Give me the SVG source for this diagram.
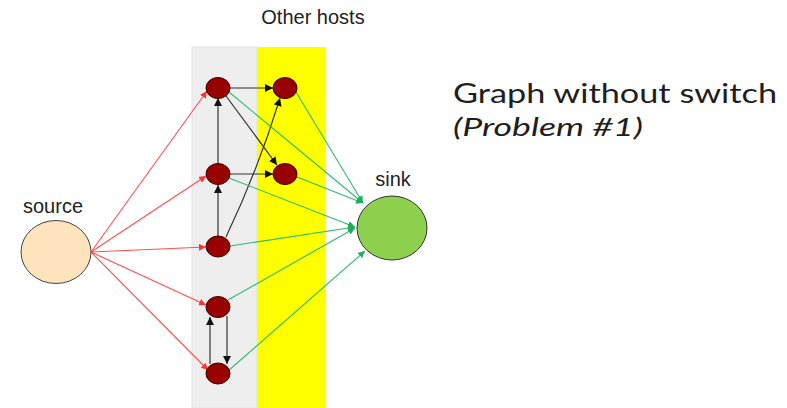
<svg xmlns="http://www.w3.org/2000/svg" width="787" height="408" viewBox="0 0 787 408">
  <defs>
    <style>
      .lbl { font-family: "Liberation Sans", Arial, sans-serif; font-size: 20px; fill: #222; }
      .title { font-family: Lato, "Open Sans", sans-serif; font-size: 26px; fill: #1e1e1e; }
      .host { fill: #990000; stroke: #3a0000; stroke-width: 1; }
      .red { stroke: #ff4d4d; stroke-width: 1.1; fill: none; marker-end: url(#arrRed); }
      .grn { stroke: #2dbb6e; stroke-width: 1.1; fill: none; marker-end: url(#arrGrn); }
      .blk { stroke: #333; stroke-width: 1.2; fill: none; marker-end: url(#arrBlk); }
    </style>
    <marker id="arrRed" viewBox="0 0 10 10" refX="10" refY="5" markerWidth="7" markerHeight="7" markerUnits="userSpaceOnUse" orient="auto">
      <path d="M0,0 L10,5 L0,10 z" fill="#ff3333"/>
    </marker>
    <marker id="arrGrn" viewBox="0 0 10 10" refX="10" refY="5" markerWidth="7" markerHeight="7" markerUnits="userSpaceOnUse" orient="auto">
      <path d="M0,0 L10,5 L0,10 z" fill="#1fae5e"/>
    </marker>
    <marker id="arrBlk" viewBox="0 0 10 10" refX="10" refY="5" markerWidth="8" markerHeight="8" markerUnits="userSpaceOnUse" orient="auto">
      <path d="M0,0 L10,5 L0,10 z" fill="#111"/>
    </marker>
  </defs>

  <rect width="787" height="408" fill="#ffffff"/>

  <!-- host bands -->
  <g id="bands">
    <rect x="192" y="47" width="65" height="361" fill="#eeeeee" stroke="#e4e4e4" stroke-width="1"/>
    <rect x="257" y="47" width="68" height="361" fill="#ffff00"/>
    <line x1="325.5" y1="47" x2="325.5" y2="408" stroke="#dfe3ea" stroke-width="1"/>
  </g>

  <text class="lbl" x="313" y="24" text-anchor="middle">Other hosts</text>

  <!-- connectors -->
  <g id="connectors">
    <!-- source fan-out -->
    <line class="red" x1="91" y1="252" x2="207" y2="91"/>
    <line class="red" x1="91" y1="252" x2="206" y2="176"/>
    <line class="red" x1="91" y1="252" x2="206" y2="247"/>
    <line class="red" x1="91" y1="252" x2="206" y2="305"/>
    <line class="red" x1="91" y1="252" x2="208" y2="370"/>

    <!-- host to host -->
    <line class="blk" x1="230" y1="88" x2="273" y2="88"/>
    <line class="blk" x1="226" y1="96" x2="277" y2="165"/>
    <line class="blk" x1="218" y1="163" x2="218" y2="98"/>
    <line class="blk" x1="230" y1="174" x2="273" y2="174"/>
    <line class="blk" x1="218" y1="236" x2="218" y2="185"/>
    <path class="blk" d="M226,237 Q258,170 280,98"/>
    <line class="blk" x1="210" y1="364" x2="210" y2="317"/>
    <line class="blk" x1="227" y1="316" x2="227" y2="364"/>

    <!-- hosts to sink -->
    <line class="grn" x1="229" y1="92" x2="363" y2="203"/>
    <line class="grn" x1="296" y1="92" x2="363" y2="203"/>
    <line class="grn" x1="297" y1="177" x2="363" y2="203"/>
    <line class="grn" x1="229" y1="178" x2="355" y2="227"/>
    <line class="grn" x1="230" y1="246" x2="355" y2="227"/>
    <line class="grn" x1="228" y1="300" x2="355" y2="228"/>
    <line class="grn" x1="228" y1="371" x2="365" y2="251"/>
  </g>

  <!-- nodes -->
  <g id="source">
    <ellipse cx="56" cy="252" rx="35" ry="31.5" fill="#fde4bd" stroke="#444" stroke-width="1"/>
    <text class="lbl" x="53" y="213" text-anchor="middle">source</text>
  </g>
  <g id="sink">
    <ellipse cx="392" cy="228" rx="35" ry="32" fill="#8ed14f" stroke="#333" stroke-width="1"/>
    <text class="lbl" x="393" y="186" text-anchor="middle">sink</text>
  </g>
  <g id="hostA"><ellipse class="host" cx="218" cy="88" rx="12" ry="10.5"/></g>
  <g id="hostB"><ellipse class="host" cx="285" cy="88" rx="12" ry="10.5"/></g>
  <g id="hostC"><ellipse class="host" cx="218" cy="174" rx="12" ry="10.5"/></g>
  <g id="hostD"><ellipse class="host" cx="285" cy="174" rx="12" ry="10.5"/></g>
  <g id="hostE"><ellipse class="host" cx="218" cy="246.5" rx="12" ry="10.5"/></g>
  <g id="hostF"><ellipse class="host" cx="218" cy="307" rx="12" ry="10.5"/></g>
  <g id="hostG"><ellipse class="host" cx="218" cy="373.5" rx="12" ry="10.5"/></g>

  <!-- caption -->
  <g id="caption">
    <text class="title" x="453" y="103" textLength="324" lengthAdjust="spacingAndGlyphs">Graph without switch</text>
    <text class="title" x="453" y="136" font-style="italic" textLength="190" lengthAdjust="spacingAndGlyphs">(Problem #1)</text>
  </g>
</svg>
